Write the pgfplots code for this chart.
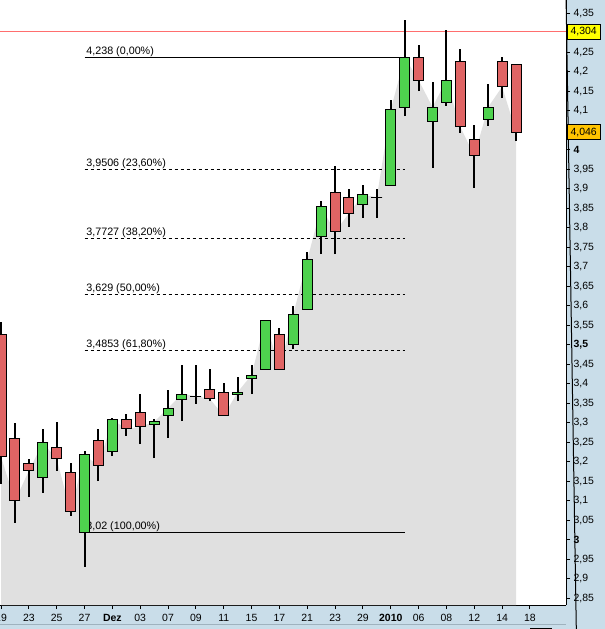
\documentclass[border=0pt]{standalone}
\usepackage{fontspec}
\setmainfont{Liberation Sans}
\usepackage{pgfplots}
\pgfplotsset{compat=1.18}
\usepackage{pgfplotstable}

\definecolor{cred}{HTML}{E06464}
\definecolor{cgreen}{HTML}{4ED24E}
\definecolor{areagrey}{HTML}{E0E0E0}
\definecolor{panel}{HTML}{C9DDE9}
\definecolor{panelline}{HTML}{9FB2BE}
\definecolor{lastline}{HTML}{FF6E6E}
\definecolor{lastbox}{HTML}{FFFF00}
\definecolor{closebox}{HTML}{FFC400}

% daily candles, index 0 = 19 Nov
\pgfplotstableread{
x open high low close
0 3.528 3.559 3.144 3.213
1 3.259 3.300 3.044 3.100
2 3.197 3.208 3.110 3.177
3 3.159 3.285 3.121 3.249
4 3.238 3.303 3.177 3.208
5 3.174 3.197 3.062 3.072
6 3.020 3.228 2.931 3.218
7 3.254 3.285 3.151 3.190
8 3.228 3.313 3.215 3.308
9 3.308 3.323 3.267 3.285
10 3.328 3.374 3.246 3.290
11 3.295 3.310 3.210 3.303
12 3.318 3.385 3.262 3.338
13 3.359 3.449 3.305 3.374
14 3.369 3.449 3.349 3.369
15 3.385 3.438 3.356 3.362
16 3.379 3.403 3.318 3.318
17 3.374 3.418 3.356 3.379
18 3.413 3.449 3.374 3.423
19 3.438 3.564 3.438 3.564
20 3.528 3.544 3.438 3.438
21 3.500 3.600 3.490 3.579
22 3.590 3.738 3.590 3.718
23 3.779 3.869 3.733 3.854
24 3.890 3.959 3.733 3.790
25 3.879 3.900 3.803 3.838
26 3.859 3.910 3.826 3.885
27 3.879 3.900 3.826 3.879
28 3.910 4.128 3.910 4.103
29 4.110 4.333 4.087 4.238
30 4.238 4.269 4.151 4.179
31 4.074 4.174 3.954 4.110
32 4.121 4.308 4.113 4.179
33 4.228 4.259 4.044 4.059
34 4.028 4.064 3.903 3.985
35 4.079 4.169 4.062 4.110
36 4.228 4.238 4.133 4.162
37 4.218 4.221 4.023 4.046
}\ohlc

% \fib{level}{label}{style}
\newcommand{\fib}[3]{%
  \addplot[black, line width=0.9bp, #3] coordinates {(6,#1) (29,#1)};
  \node[anchor=south west, inner sep=0.6bp, xshift=1bp,
    font=\fontsize{10.8}{12}\selectfont] at (axis cs:6,#1) {#2};}

\begin{document}
\begin{tikzpicture}
\useasboundingbox (0,0) rectangle (605bp,629bp);
\fill[panel] (0,0) rectangle (605bp,629bp);
\draw[panelline, line width=1bp] (0,4bp) -- (566bp,4bp);
\fill[black] (530bp,0) rectangle (552bp,1.5bp);
\begin{scope}
\clip (0,0) rectangle (605bp,629bp);
\begin{axis}[
  at={(0,24bp)}, anchor=south west,
  scale only axis, width=566bp, height=605bp,
  xmin=-0.072, xmax=40.59, ymin=2.8333, ymax=4.3846,
  axis background/.style={fill=white},
  axis x line*=bottom, axis y line*=right,
  axis line style={-, line width=1bp},
  tick align=outside, major tick length=4bp,
  tick style={black, line width=1bp},
  xtick={0,2,...,38},
  xticklabels={19,23,25,27,\textbf{Dez},03,07,09,11,15,17,21,23,29,\textbf{2010},06,08,12,14,18},
  ytick={2.85,2.9,2.95,3,3.05,3.1,3.15,3.2,3.25,3.3,3.35,3.4,3.45,3.5,3.55,3.6,3.65,3.7,3.75,3.8,3.85,3.9,3.95,4,4.1,4.15,4.2,4.25,4.35},
  yticklabels={2{,}85,2{,}9,2{,}95,\textbf{3},3{,}05,3{,}1,3{,}15,3{,}2,3{,}25,3{,}3,3{,}35,3{,}4,3{,}45,\textbf{3{,}5},3{,}55,3{,}6,3{,}65,3{,}7,3{,}75,3{,}8,3{,}85,3{,}9,3{,}95,\textbf{4},4{,}1,4{,}15,4{,}2,4{,}25,4{,}35},
  ticklabel style={font=\fontsize{10.5}{12}\selectfont},
  xticklabel style={yshift=-2bp},
  clip mode=individual,
  candle/.style 2 args={draw=none, mark=none, error bars/.cd, y dir=plus,
    y explicit, error mark=none, error bar style={line width=#1, draw=#2}},
]
% close line as grey mountain
\addplot[fill=areagrey, draw=none] table[x=x, y=close] {\ohlc} \closedcycle;

\fib{4.238}{4,238 (0,00\%)}{solid}
\fib{3.9506}{3,9506 (23,60\%)}{dash pattern=on 3bp off 3bp}
\fib{3.7727}{3,7727 (38,20\%)}{dash pattern=on 3bp off 3bp}
\fib{3.629}{3,629 (50,00\%)}{dash pattern=on 3bp off 3bp}
\fib{3.4853}{3,4853 (61,80\%)}{dash pattern=on 3bp off 3bp}
\fib{3.02}{3,02 (100,00\%)}{solid}

% last high marker
\addplot[draw=lastline, line width=1.3bp] coordinates {(-1,4.3035) (41,4.3035)};

% wicks
\addplot[candle={2bp}{black}]
  table[x=x, y=low, y error plus expr=\thisrow{high}-\thisrow{low}] {\ohlc};
% body outline
\addplot[candle={11bp}{black}]
  table[x=x, y expr={min(\thisrow{open},\thisrow{close})},
    y error plus expr={abs(\thisrow{open}-\thisrow{close})}] {\ohlc};
% falling bodies
\addplot[candle={9bp}{cred}]
  table[x=x, y=close, y error plus expr={max(\thisrow{open}-\thisrow{close},0)}] {\ohlc};
% rising bodies
\addplot[candle={9bp}{cgreen}]
  table[x=x, y=open, y error plus expr={max(\thisrow{close}-\thisrow{open},0)}] {\ohlc};
% top and bottom edges of the bodies
\addplot[only marks, mark=-, mark size=5.5bp, mark options={black, line width=1bp}]
  table[x=x, y=open] {\ohlc};
\addplot[only marks, mark=-, mark size=5.5bp, mark options={black, line width=1bp}]
  table[x=x, y=close] {\ohlc};

% tick above the top edge, cut by the frame
\draw[black, line width=1bp] (axis cs:40.59,4.4) -- ++(4bp,0);
\node[anchor=west, xshift=3bp, font=\fontsize{10.5}{12}\selectfont]
  at (axis cs:40.59,4.4) {4,4};

\node[anchor=west, draw=black, fill=lastbox, inner sep=0pt, minimum width=33bp,
  minimum height=15bp, font=\fontsize{10.5}{12}\selectfont, xshift=1bp]
  at (axis cs:40.59,4.304) {4,304};
\node[anchor=west, draw=black, fill=closebox, inner sep=0pt, minimum width=33bp,
  minimum height=15bp, font=\fontsize{10.5}{12}\selectfont, xshift=1bp]
  at (axis cs:40.59,4.046) {4,046};
\end{axis}
\end{scope}
\end{tikzpicture}
\end{document}
